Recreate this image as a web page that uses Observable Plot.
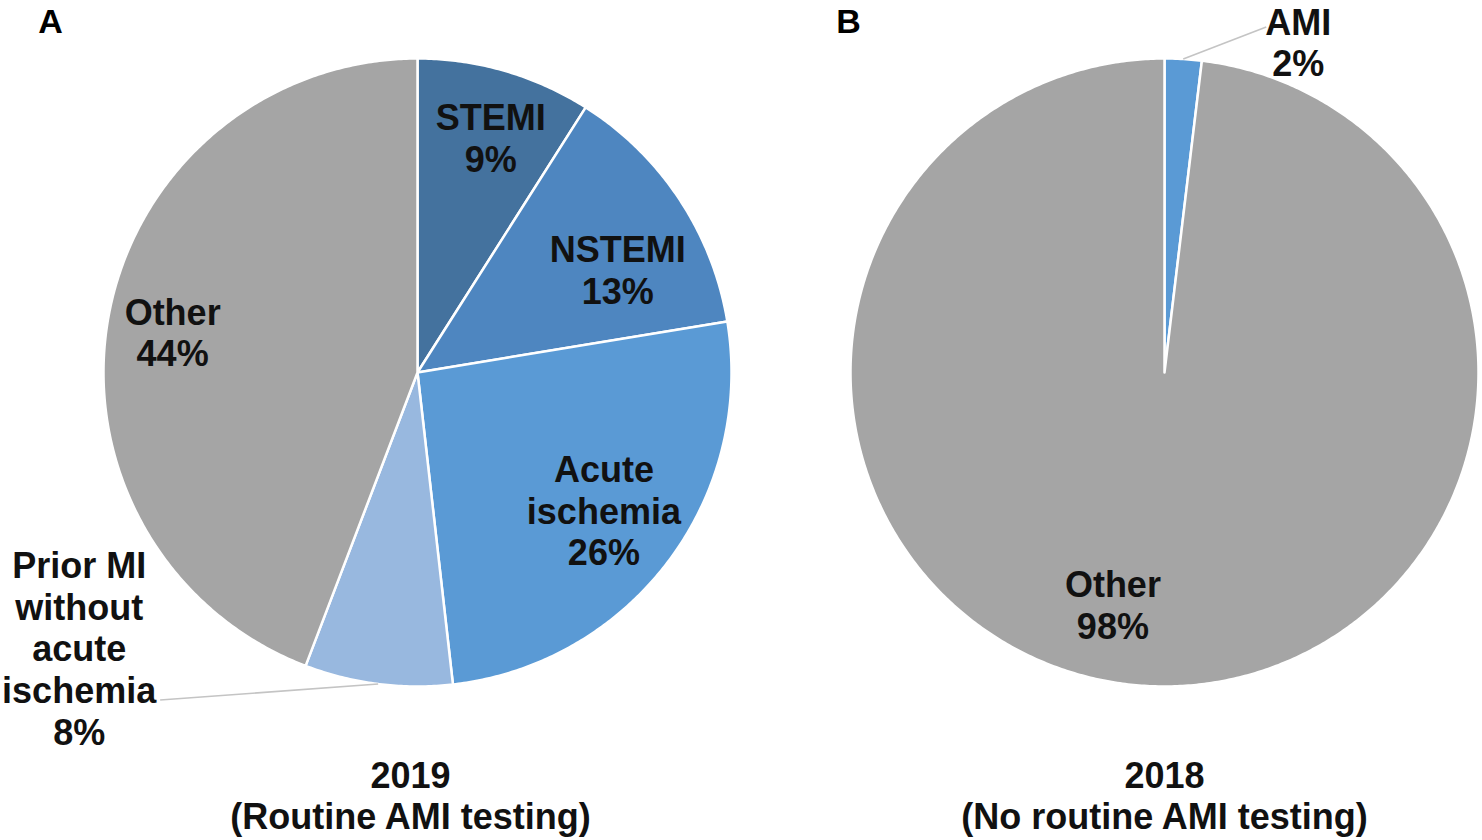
<!DOCTYPE html>
<html>
<head>
<meta charset="utf-8">
<script src="https://cdn.jsdelivr.net/npm/d3@7"></script>
<script src="https://cdn.jsdelivr.net/npm/@observablehq/plot@0.6"></script>
<style>
  html, body { margin: 0; padding: 0; background: #ffffff; }
  #chart svg { display: block; }
</style>
</head>
<body>
<div id="chart"></div>
<script>
// ---------------- DATA ----------------
const categoriesA = ["STEMI", "NSTEMI", "Acute ischemia", "Prior MI without acute ischemia", "Other"];
const valuesA = [9, 13.4, 25.8, 7.6, 44.2];
const labelsA = ["STEMI\n9%", "NSTEMI\n13%", "Acute\nischemia\n26%", "Prior MI\nwithout\nacute\nischemia\n8%", "Other\n44%"];

const categoriesB = ["AMI", "Other"];
const valuesB = [1.9, 98.1];
const labelsB = ["AMI\n2%", "Other\n98%"];

const panelLetters = ["A", "B"];
const panelTitles = ["2019\n(Routine AMI testing)", "2018\n(No routine AMI testing)"];

const colorDomain = ["STEMI", "NSTEMI", "Acute ischemia", "Prior MI without acute ischemia", "Other", "AMI"];
const colorRange = ["#44729e", "#4e86c0", "#5a9ad5", "#98b8df", "#a5a5a5", "#5a9ad5"];

// ---------------- LAYOUT (pixels) ----------------
const W = 1482, H = 840;
const R = 314;                       // pie radius in px (= 1 unit)
const centerPx = [[417, 372], [1164, 372]];
const toUx = px => (px - centerPx[0][0]) / R;
const toUy = py => (centerPx[0][1] - py) / R;

// label nudges (px) relative to default inside placement, and outside-label offsets (px from slice edge point)
const insideRadius = 0.78;
const nudges = {
  "A|STEMI": [5, 0], "A|NSTEMI": [-4, 32], "A|Acute ischemia": [-9, -10], "A|Other": [-4, 4],
  "B|Other": [-37, -12]
};
const outside = {
  "A|Prior MI without acute ischemia": {leader: [-218, 16], label: [-299, -36]},
  "B|AMI": {leader: [83, -32], label: [115, -17]}
};
const titleNudge = [-7, 0];

// ---------------- BUILD ----------------
const pies = [
  {id: "A", cats: categoriesA, vals: valuesA, labels: labelsA},
  {id: "B", cats: categoriesB, vals: valuesB, labels: labelsB}
];

const wedges = [], labelRows = [], leaders = [], titles = [], letters = [];
pies.forEach((p, pi) => {
  const cx = toUx(centerPx[pi][0]), cy = toUy(centerPx[pi][1]);
  const total = d3.sum(p.vals);
  let acc = 0;
  p.cats.forEach((cat, i) => {
    const a0 = acc / total * 2 * Math.PI;
    acc += p.vals[i];
    const a1 = acc / total * 2 * Math.PI;
    const key = p.id + "|" + cat;
    const n = Math.max(2, Math.ceil((a1 - a0) / (Math.PI / 360)));
    wedges.push({key, category: cat, x: cx, y: cy});
    for (let k = 0; k <= n; k++) {
      const t = a0 + (a1 - a0) * k / n;
      wedges.push({key, category: cat, x: cx + Math.sin(t), y: cy + Math.cos(t)});
    }
    wedges.push({key, category: cat, x: cx, y: cy});
    const mid = (a0 + a1) / 2;
    if (outside[key]) {
      const ex = cx + Math.sin(mid), ey = cy + Math.cos(mid);
      const o = outside[key];
      leaders.push({x1: ex, y1: ey, x2: ex + o.leader[0] / R, y2: ey - o.leader[1] / R});
      labelRows.push({text: p.labels[i], x: ex + o.label[0] / R, y: ey - o.label[1] / R});
    } else {
      const nd = nudges[key] || [0, 0];
      labelRows.push({
        text: p.labels[i],
        x: cx + insideRadius * Math.sin(mid) + nd[0] / R,
        y: cy + insideRadius * Math.cos(mid) - nd[1] / R
      });
    }
  });
  const tn = pi === 0 ? titleNudge : [0, 0];
  titles.push({text: panelTitles[pi], x: cx + tn[0] / R, y: cy - 423 / R});
  letters.push({text: panelLetters[pi], x: cx - (pi === 0 ? 367 : 316) / R, y: cy + 350 / R});
});

const font = "'Liberation Sans', Arial, Helvetica, sans-serif";

const chart = Plot.plot({
  width: W,
  height: H,
  margin: 0,
  style: {fontFamily: font, background: "#ffffff"},
  x: {domain: [toUx(0), toUx(W)], axis: null},
  y: {domain: [toUy(H), toUy(0)], axis: null},
  color: {type: "ordinal", domain: colorDomain, range: colorRange, legend: false},
  marks: [
    Plot.line(wedges, {
      x: "x", y: "y", z: "key", fill: "category",
      stroke: "#ffffff", strokeWidth: 2.5, strokeLinejoin: "round", curve: "linear"
    }),
    Plot.link(leaders, {x1: "x1", y1: "y1", x2: "x2", y2: "y2", stroke: "#c4c4c4", strokeWidth: 1.6}),
    Plot.text(labelRows, {
      x: "x", y: "y", text: "text", fontSize: 36, fontWeight: "bold",
      lineHeight: 1.16, fill: "#111111", fontFamily: font
    }),
    Plot.text(titles, {
      x: "x", y: "y", text: "text", fontSize: 36, fontWeight: "bold",
      lineHeight: 1.14, fill: "#111111", fontFamily: font
    }),
    Plot.text(letters, {
      x: "x", y: "y", text: "text", fontSize: 34, fontWeight: "bold",
      fill: "#000000", fontFamily: font
    })
  ]
});
document.getElementById("chart").appendChild(chart);
</script>
</body>
</html>
